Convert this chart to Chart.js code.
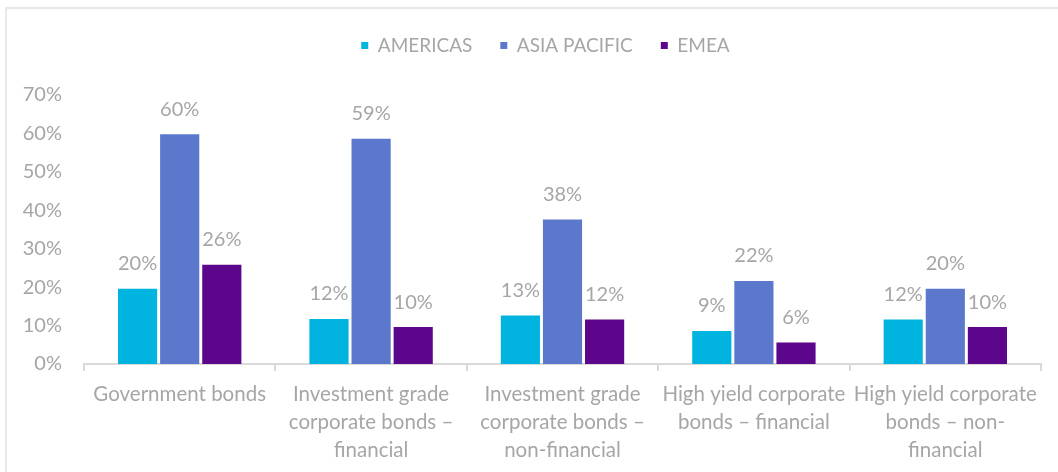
<!DOCTYPE html>
<html>
<head>
<meta charset="utf-8">
<script src="https://cdn.jsdelivr.net/npm/chart.js@4"></script>
<style>
  html, body { margin: 0; padding: 0; background: #fff; }
  #wrap { position: relative; width: 1058px; height: 472px; overflow: hidden; }
  #frame { position: absolute; left: 5px; top: 7px; width: 1100px; height: 520px;
           border: 2px solid #e8e8e8; box-sizing: border-box; pointer-events: none; }
  canvas { position: absolute; left: 0; top: 0; }
</style>
</head>
<body>
<div id="wrap">
  <div id="frame"></div>
  <canvas id="chart" width="1058" height="472"></canvas>
</div>
<script>
// categories and series (percent)
const categories = [
    ['Government bonds'],
    ['Investment grade', 'corporate bonds –', 'financial'],
    ['Investment grade', 'corporate bonds –', 'non-financial'],
    ['High yield corporate', 'bonds – financial'],
    ['High yield corporate', 'bonds – non-', 'financial']
];
const seriesNames = ['AMERICAS', 'ASIA PACIFIC', 'EMEA'];
const americas = [19.6, 11.7, 12.6, 8.6, 11.6];
const asiaPacific = [59.8, 58.6, 37.6, 21.6, 19.6];
const emea = [25.8, 9.6, 11.6, 5.6, 9.6];
const seriesColors = ['#00B4E0', '#5B78CD', '#5C068C'];
const yTicks = [0, 10, 20, 30, 40, 50, 60, 70];

const FONT = 'Lato, "Open Sans", sans-serif';
const GREY = '#A6A6A6';

// value labels above each bar
const barLabels = {
    id: 'barLabels',
    afterDatasetsDraw(chart) {
        const ctx = chart.ctx;
        ctx.save();
        ctx.font = '20px ' + FONT;
        ctx.fillStyle = GREY;
        ctx.textAlign = 'center';
        ctx.textBaseline = 'middle';
        chart.data.datasets.forEach((ds, i) => {
            chart.getDatasetMeta(i).data.forEach((bar, j) => {
                ctx.fillText(Math.round(ds.data[j]) + '%', bar.x, bar.y - 25);
            });
        });
        ctx.restore();
    }
};

// extra room under the legend, and nudge it a little right like the original
const legendGap = {
    id: 'legendGap',
    beforeInit(chart) {
        const fit = chart.legend.fit;
        chart.legend.fit = function () {
            fit.call(this);
            this.height += 30;
        };
    },
    afterLayout(chart) {
        chart.legend.left += 25;
        chart.legend.right += 25;
    }
};

const allSeries = [americas, asiaPacific, emea];

new Chart(document.getElementById('chart'), {
    type: 'bar',
    data: {
        labels: categories,
        datasets: allSeries.map((d, i) => ({
            label: seriesNames[i],
            data: d,
            backgroundColor: seriesColors[i],
            categoryPercentage: 0.66,
            barPercentage: 0.93
        }))
    },
    options: {
        responsive: false,
        animation: false,
        devicePixelRatio: 1,
        layout: { padding: { top: 8, right: 17, left: 0, bottom: 0 } },
        plugins: {
            legend: {
                position: 'top',
                labels: {
                    font: { family: FONT, size: 19 },
                    color: GREY,
                    boxWidth: 7,
                    boxHeight: 7,
                    padding: 28
                }
            },
            tooltip: { enabled: false }
        },
        scales: {
            x: {
                grid: { display: true, offset: true, drawOnChartArea: false, drawTicks: true,
                        tickLength: 7, color: '#D9D9D9', lineWidth: 2 },
                border: { display: true, color: '#D9D9D9', width: 2 },
                ticks: { font: { family: FONT, size: 20.5, lineHeight: 1.37 }, color: GREY,
                         maxRotation: 0, autoSkip: false, padding: 9 },
                afterFit(scale) { scale.height = 108; }
            },
            y: {
                min: 0, max: 70,
                grid: { display: false },
                border: { display: false },
                afterBuildTicks(scale) { scale.ticks = yTicks.map(v => ({ value: v })); },
                ticks: { font: { family: FONT, size: 20 }, color: GREY, padding: 14,
                         callback: v => v + '%' },
                afterFit(scale) { scale.width = 84; }
            }
        }
    },
    plugins: [barLabels, legendGap]
});
</script>
</body>
</html>
